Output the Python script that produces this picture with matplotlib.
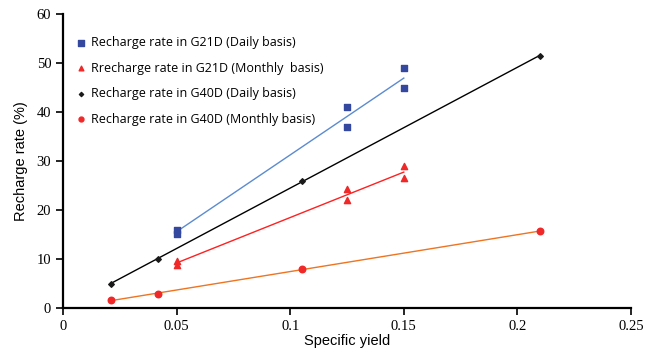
import matplotlib
matplotlib.use("Agg")
import matplotlib.pyplot as plt
import numpy as np

# G21D (daily / monthly) - two wells per yield
x_g21 = [0.05, 0.05, 0.125, 0.125, 0.15, 0.15]
y_g21_daily = [15.2, 16.0, 41.0, 37.0, 49.0, 45.0]
y_g21_monthly = [9.6, 8.8, 24.2, 22.0, 29.0, 26.5]

# G40D (daily / monthly)
x_g40 = [0.021, 0.042, 0.105, 0.21]
y_g40_daily = [5.0, 10.0, 26.0, 51.5]
y_g40_monthly = [1.6, 2.9, 7.9, 15.7]

labels = [
    "Recharge rate in G21D (Daily basis)",
    "Rrecharge rate in G21D (Monthly  basis)",
    "Recharge rate in G40D (Daily basis)",
    "Recharge rate in G40D (Monthly basis)",
]

fig = plt.figure(figsize=(6.45, 3.52), dpi=100)
ax = fig.add_axes([0.0977, 0.125, 0.8806, 0.835])


def trend(x, y, color):
    # linear trendline over the data range
    x = np.array(x)
    k, b = np.polyfit(x, y, 1)
    xs = np.array([x.min(), x.max()])
    ax.plot(xs, k * xs + b, color=color, lw=1.0, zorder=2)


trend(x_g21, y_g21_daily, "#5B8BD0")
trend(x_g21, y_g21_monthly, "#FF2020")
trend(x_g40, y_g40_daily, "#000000")
trend(x_g40, y_g40_monthly, "#EE7421")

ax.scatter(x_g21, y_g21_daily, marker="s", s=24, color="#3448A0", label=labels[0], zorder=3)
ax.scatter(x_g21, y_g21_monthly, marker="^", s=20, color="#F02828", label=labels[1], zorder=3)
ax.scatter(x_g40, y_g40_daily, marker="D", s=8, color="#1A1A1A", label=labels[2], zorder=3)
ax.scatter(x_g40, y_g40_monthly, marker="o", s=22, color="#F02828", label=labels[3], zorder=3)

ax.set_xlim(0, 0.25)
ax.set_ylim(0, 60)
ax.set_xticks([0, 0.05, 0.1, 0.15, 0.2, 0.25])
ax.set_xticklabels(["0", "0.05", "0.1", "0.15", "0.2", "0.25"])
ax.set_yticks(range(0, 61, 10))
for s in ["top", "right"]:
    ax.spines[s].set_visible(False)
for s in ["left", "bottom"]:
    ax.spines[s].set_linewidth(1.6)
ax.tick_params(direction="out", length=5, width=1.2, labelsize=10.5)
for t in ax.get_xticklabels() + ax.get_yticklabels():
    t.set_family("Liberation Serif")

ax.set_xlabel("Specific yield", family="Liberation Sans", fontsize=10.5, labelpad=1)
ax.set_ylabel("Recharge rate (%)", family="Liberation Sans", fontsize=10.5, labelpad=6)

ax.legend(loc="upper left", bbox_to_anchor=(0.005, 0.955), frameon=False,
          prop={"family": "Open Sans", "size": 9}, handletextpad=0.3,
          handlelength=1.0, labelspacing=1.0, borderaxespad=0.3,
          scatterpoints=1, markerscale=0.75)

fig.savefig("out.png", dpi=100)
